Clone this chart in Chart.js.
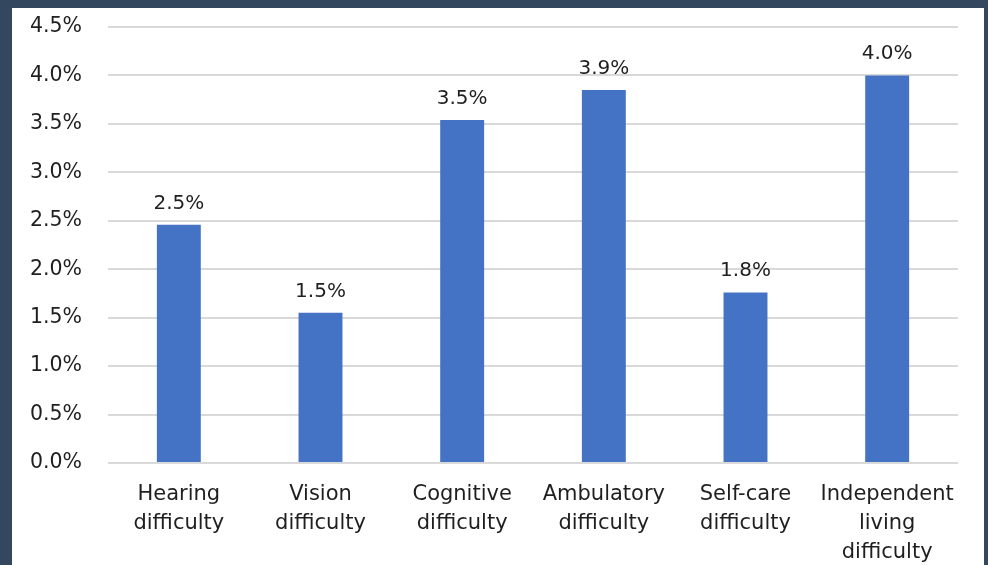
<!DOCTYPE html>
<html>
<head>
<meta charset="utf-8">
<script src="https://cdn.jsdelivr.net/npm/chart.js@4"></script>
<style>
html,body{margin:0;padding:0;background:#33475f;width:988px;height:565px;overflow:hidden;}
#wrap{position:absolute;left:12px;top:8px;width:972px;height:557px;background:#ffffff;}
canvas{display:block;}
</style>
</head>
<body>
<div id="wrap"><canvas id="c" width="972" height="557"></canvas></div>
<script>
const categories = [["Hearing","difficulty"],["Vision","difficulty"],["Cognitive","difficulty"],["Ambulatory","difficulty"],["Self-care","difficulty"],["Independent","living","difficulty"]];
const values = [2.46, 1.55, 3.54, 3.85, 1.76, 4.0];
const valueLabels = ["2.5%","1.5%","3.5%","3.9%","1.8%","4.0%"];
const yTicks = [0,0.5,1,1.5,2,2.5,3,3.5,4,4.5];

const FONT = "'DejaVu Sans', sans-serif";
const TEXT = "#1f1f1f";

const labelPlugin = {
  id: 'barLabels',
  afterDatasetsDraw(chart) {
    const ctx = chart.ctx;
    const meta = chart.getDatasetMeta(0);
    ctx.save();
    ctx.font = "20px " + FONT;
    ctx.fillStyle = TEXT;
    ctx.textAlign = 'center';
    ctx.textBaseline = 'alphabetic';
    meta.data.forEach((bar, i) => {
      ctx.fillText(valueLabels[i], bar.x, bar.y - 16);
    });
    ctx.restore();
  }
};

new Chart(document.getElementById('c'), {
  type: 'bar',
  data: {
    labels: categories,
    datasets: [{
      data: values,
      backgroundColor: '#4472c4',
      borderWidth: 0,
      barPercentage: 0.31,
      categoryPercentage: 1.0
    }]
  },
  options: {
    responsive: false,
    animation: false,
    devicePixelRatio: 1,
    layout: { padding: { left: 0, right: 26, top: 19, bottom: 0 } },
    plugins: { legend: { display: false }, tooltip: { enabled: false } },
    scales: {
      x: {
        grid: { display: false },
        border: { display: false },
        ticks: {
          color: TEXT,
          font: { family: FONT, size: 21, lineHeight: 1.38 },
          maxRotation: 0,
          autoSkip: false,
          padding: 9
        },
        afterFit(scale) { scale.height = 102; }
      },
      y: {
        min: 0,
        max: 4.5,
        afterBuildTicks(scale) { scale.ticks = yTicks.map(v => ({ value: v })); },
        grid: { color: '#d9d9d9', lineWidth: 2, drawTicks: false },
        border: { display: false },
        ticks: {
          color: TEXT,
          font: { family: FONT, size: 20.5 },
          padding: 26,
          callback: (v) => Number(v).toFixed(1) + '%'
        },
        afterFit(scale) { scale.width = 96; scale.paddingTop = 0; scale.paddingBottom = 0; }
      }
    }
  },
  plugins: [labelPlugin]
});
</script>
</body>
</html>
